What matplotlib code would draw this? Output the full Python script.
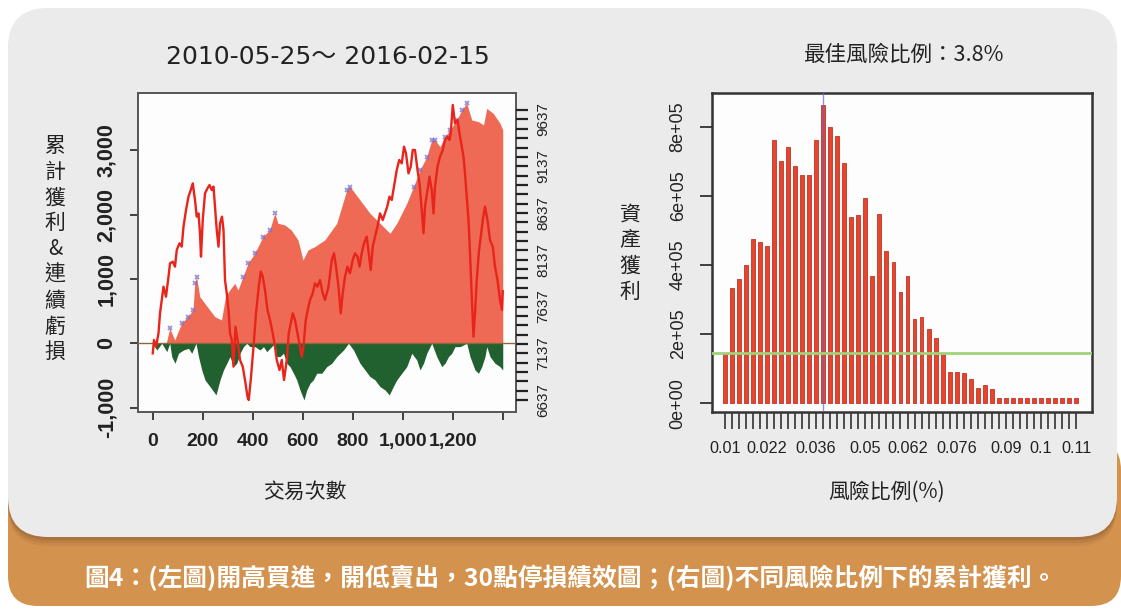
import numpy as np
import matplotlib
matplotlib.use("Agg")
import matplotlib.pyplot as plt
from matplotlib.patches import FancyBboxPatch
from matplotlib.transforms import IdentityTransform

# left panel: index price, cumulative profit and drawdown per trade
trade_px = [0, 5, 13, 23, 29, 43, 53, 63, 69, 80, 89, 96, 107, 116, 123, 133, 143, 152, 160, 169,
            176, 183, 189, 193, 200, 209, 219, 227, 236, 243, 249, 256, 263, 269, 277, 283, 289, 296, 303, 309,
            316, 323, 331, 339, 349, 360, 369, 379, 384, 392, 403, 413, 424, 432, 440, 449, 459, 469, 480, 489,
            496, 507, 516, 525, 536, 544, 552, 560, 569, 579, 589, 596, 603, 612, 620, 629, 640, 649, 659, 669,
            680, 689, 703, 716, 725, 733, 743, 752, 760, 769, 779, 789, 800, 809, 819, 827, 836, 845, 856, 867,
            872, 880, 889, 899, 909, 920, 929, 938, 947, 956, 965, 976, 986, 996, 1005, 1013, 1023, 1032, 1040, 1049,
            1059, 1067, 1076, 1083, 1089, 1099, 1107, 1116, 1123, 1129, 1139, 1149, 1160, 1169, 1179, 1187, 1192, 1200, 1209, 1219,
            1227, 1236, 1243, 1249, 1256, 1263, 1269, 1276, 1283, 1289, 1296, 1304, 1312, 1320, 1329, 1339, 1349, 1360, 1369, 1379,
            1389, 1397, 1400]
price = [7136, 7279, 7207, 7350, 7564, 7849, 7742, 7956, 8099, 8116, 8063, 8241, 8313, 8277, 8491, 8669, 8812, 8883, 8954, 8776,
         8598, 8633, 8420, 8170, 8562, 8847, 8901, 8936, 8883, 8919, 8705, 8455, 8277, 8526, 8598, 8455, 7920, 7778, 7600, 7350,
         7279, 6994, 7421, 7279, 7065, 6994, 6851, 6673, 6637, 6851, 7207, 7564, 7849, 8010, 7956, 7813, 7600, 7493, 7350, 7207,
         7065, 6958, 7065, 6851, 7065, 7350, 7457, 7564, 7493, 7350, 7207, 7100, 7207, 7493, 7600, 7707, 7778, 7885, 7849, 7920,
         7778, 7707, 7849, 8134, 8206, 8063, 7849, 7564, 7778, 7956, 8063, 7992, 8134, 8206, 8170, 8063, 8206, 8313, 8384, 8134,
         8027, 8277, 8384, 8491, 8633, 8562, 8633, 8705, 8812, 8776, 8919, 9097, 9204, 9168, 9346, 9275, 9061, 9133, 9311, 9311,
         9097, 8954, 8669, 8420, 8705, 8883, 9026, 8883, 8633, 8919, 9133, 9239, 9311, 9418, 9453, 9418, 9489, 9792, 9596, 9631,
         9489, 9346, 9239, 9061, 8812, 8562, 8206, 7742, 7314, 7564, 7920, 8206, 8384, 8562, 8705, 8562, 8348, 8277, 8063, 7920,
         7707, 7600, 7800]

trade_eq = [0, 16, 36, 49, 68, 88, 115, 141, 161, 168, 175, 188, 208, 228, 248, 275, 291, 308, 328, 341,
            361, 381, 408, 441, 468, 488, 501, 528, 554, 581, 601, 621, 648, 688, 736, 776, 789, 829, 869, 909,
            949, 976, 1016, 1043, 1069, 1096, 1116, 1129, 1149, 1169, 1189, 1216, 1236, 1256, 1276, 1303, 1323, 1336, 1362, 1389,
            1400]
equity = [0, -52, 0, -78, 233, 52, 311, 415, 518, 933, 1037, 726, 622, 518, 415, 363, 726, 829, 933, 829,
          1037, 1244, 1399, 1659, 1762, 2021, 1866, 1840, 1762, 1607, 1296, 1451, 1503, 1607, 1866, 2384, 2436, 2229, 2021, 1866,
          1710, 1866, 2177, 2436, 2695, 2902, 3162, 3162, 3058, 3213, 3317, 3473, 3628, 3732, 3473, 3447, 3395, 3654, 3576, 3421,
          3317]

trade_dd = [0, 16, 36, 56, 68, 76, 89, 103, 123, 143, 156, 173, 183, 196, 209, 229, 253, 269, 283, 296,
            309, 323, 336, 349, 363, 376, 389, 409, 429, 443, 456, 488, 496, 509, 523, 536, 549, 563, 576, 589,
            605, 616, 629, 642, 656, 676, 696, 716, 736, 763, 783, 803, 829, 849, 869, 889, 909, 929, 946, 962,
            976, 996, 1016, 1036, 1056, 1069, 1083, 1096, 1116, 1136, 1156, 1169, 1183, 1196, 1209, 1229, 1256, 1269, 1289, 1303,
            1316, 1329, 1336, 1349, 1369, 1389, 1400]
drawdown = [0, -104, 0, -130, 0, -207, -311, -155, -104, -78, -155, 0, -207, -415, -570, -674, -803, -570, -415, -311,
            -207, -363, -311, -155, -52, 0, -52, -52, -104, -52, -130, 0, -207, -207, -155, -311, -363, -466, -570, -726,
            -881, -726, -622, -570, -466, -466, -363, -311, -207, -104, 0, -104, -311, -415, -518, -570, -674, -726, -803, -674,
            -570, -466, -363, -155, -259, -415, -311, -155, 0, -207, -363, -311, -207, -155, -52, -52, 0, -207, -415, -466,
            -363, -207, -52, -207, -311, -363, -415]

# right panel: final profit for each risk ratio
risk_ratio = np.round(np.arange(0.01, 0.1101, 0.002), 3)
final_profit = [143000, 333000, 360000, 400000, 474000, 466000, 456000, 762000, 701000, 740000,
                685000, 659000, 659000, 760000, 863000, 800000, 773000, 694000, 540000, 545000,
                593000, 369000, 547000, 439000, 408000, 321000, 368000, 243000, 249000, 215000,
                188000, 142000, 90000, 90000, 87000, 70000, 43000, 53000, 41000, 14500,
                14500, 14500, 14500, 14500, 14500, 14500, 14500, 14500, 14500, 14500, 14500]
ratio_labels = ["0.01", "0.022", "0.036", "0.05", "0.062", "0.076", "0.09", "0.1", "0.11"]
best_ratio = 0.038
baseline = 145000

W, H = 1121, 609
fig = plt.figure(figsize=(W / 100, H / 100), dpi=100)
fig.patch.set_facecolor("white")

CJK = ["Noto Sans CJK TC", "DejaVu Sans"]
SANS = ["Liberation Sans", "DejaVu Sans"]
NARROW = ["Liberation Sans Narrow", "Liberation Sans", "DejaVu Sans"]


def rrect(x0, y0, x1, y1, r, **kw):
    p = FancyBboxPatch((x0, H - y1), x1 - x0, y1 - y0,
                       boxstyle=f"round,pad=0,rounding_size={r}",
                       transform=IdentityTransform(), **kw)
    fig.add_artist(p)


def frac(x0, y0, x1, y1):
    return [x0 / W, 1 - y1 / H, (x1 - x0) / W, (y1 - y0) / H]


# page background: orange caption band, shadow, grey panel
rrect(8, 440, 1121, 606, 30, color="#d4924f", lw=0, zorder=-10)
for k, a in [(9, 0.10), (6, 0.14), (3, 0.2)]:
    rrect(8, 8 + k, 1117, 537 + k, 40, color="#6b4320", alpha=a, lw=0, zorder=-9)
rrect(8, 8, 1117, 537, 40, color="#ebebeb", lw=0, zorder=-8)

fig.text(570 / W, 1 - 578 / H,
         "圖4：(左圖)開高買進，開低賣出，30點停損績效圖；(右圖)不同風險比例下的累計獲利。",
         family=CJK, fontsize=17.8, fontweight="bold", color="white", ha="center", va="center")

# ---------------- left chart ----------------
ax = fig.add_axes(frac(138, 93.3, 516, 411.7))
ax.set_facecolor("#fdfdfd")
eq = np.array(equity, dtype=float)
ax.fill_between(trade_eq, 0, eq, where=eq > 0, interpolate=True, color="#ee6a55", lw=0, zorder=2)
ax.fill_between(trade_dd, 0, drawdown, color="#21602f", lw=0, zorder=2)
ax.axhline(0, color="#8a6a3c", lw=1, zorder=3)
peak = np.maximum.accumulate(eq)
hi = (eq >= peak) & (eq > 0)
ax.plot(np.array(trade_eq)[hi], eq[hi], ls="none", marker="x", ms=3.5, mew=1.3,
        color="#7a6fd0", alpha=0.75, zorder=4)
ax.set_xlim(-59, 1453)
ax.set_ylim(-1064, 3888)
ax.set_xticks(range(0, 1401, 200))
ax.set_xticklabels(["0", "200", "400", "600", "800", "1,000", "1,200", ""],
                   family=SANS, fontweight="bold", fontsize=14)
ax.set_yticks([-1000, 0, 1000, 2000, 3000])
ax.set_yticklabels(["-1,000", "0", "1,000", "2,000", "3,000"], family=NARROW,
                   fontweight="bold", fontsize=15.5, rotation=90, va="center")
ax.tick_params(axis="x", length=6, width=1.2, pad=9.5, colors="#222222")
ax.tick_params(axis="y", length=6, width=1.2, pad=9, colors="#222222")
for s in ax.spines.values():
    s.set_color("#555555")
    s.set_linewidth(1.4)

ax2 = ax.twinx()
ax2.plot(trade_px, price, color="#e8241b", lw=1.7, zorder=5)
ax2.set_ylim(6512, 9917)
ax2.set_yticks(np.arange(6637, 9738, 100))
ax2.set_yticklabels([str(v) if (v - 6637) % 500 == 0 and v <= 9637 else ""
                     for v in range(6637, 9738, 100)],
                    family=NARROW, fontsize=11, rotation=90, va="center")
ax2.tick_params(axis="y", length=8.5, width=1.6, pad=6, colors="#222222")
for s in ax2.spines.values():
    s.set_visible(False)

fig.text(328 / W, 1 - 57 / H, "2010-05-25～ 2016-02-15",
         family=["DejaVu Sans", "Noto Sans CJK TC"], fontsize=18, color="#222222",
         ha="center", va="center")
for i, ch in enumerate("累計獲利&連續虧損"):
    fig.text(55 / W, 1 - (146 + 25.8 * i) / H, ch, family=CJK, fontsize=15,
             color="#222222", ha="center", va="center")
fig.text(305 / W, 1 - 492 / H, "交易次數", family=CJK, fontsize=15,
         color="#222222", ha="center", va="center")

# ---------------- right chart ----------------
bx = fig.add_axes(frac(711.7, 93.3, 1091.7, 411.7))
bx.set_facecolor("#fdfdfd")
idx = np.arange(len(risk_ratio))
bx.bar(idx, final_profit, width=0.55, color="#e5452f", edgecolor="#c23424", lw=0.6, zorder=2)
best_idx = int(np.argmin(np.abs(risk_ratio - best_ratio)))
bx.axvline(best_idx, color="#6464cc", lw=1, alpha=0.7, zorder=3)
bx.axhline(baseline, color="#9fd27a", lw=2, zorder=4)
bx.set_xlim(-1.85, 52.2)
bx.set_ylim(-24300, 896500)
bx.set_xticks(idx)
bx.set_xticklabels([t if t in ratio_labels else "" for t in ["%g" % r for r in risk_ratio]],
                   family=SANS, fontsize=11.7)
bx.set_yticks([0, 200000, 400000, 600000, 800000])
bx.set_yticklabels(["0e+00", "2e+05", "4e+05", "6e+05", "8e+05"], family=NARROW,
                   fontsize=13, rotation=90, va="center")
bx.tick_params(axis="x", length=12, width=1.1, pad=9, colors="#222222")
bx.tick_params(axis="y", length=8.5, width=1.2, pad=9.5, colors="#222222")
for s in bx.spines.values():
    s.set_color("#333333")
    s.set_linewidth(1.8)

fig.text(903 / W, 1 - 55 / H, f"最佳風險比例：{best_ratio * 100:.1f}%", family=CJK,
         fontsize=15.5, color="#222222", ha="center", va="center")
for i, ch in enumerate("資產獲利"):
    fig.text(630 / W, 1 - (215 + 25.5 * i) / H, ch, family=CJK, fontsize=15,
             color="#222222", ha="center", va="center")
fig.text(887 / W, 1 - 492 / H, "風險比例(%)", family=CJK, fontsize=15,
         color="#222222", ha="center", va="center")

fig.savefig("out.png", dpi=100, facecolor=fig.get_facecolor())
